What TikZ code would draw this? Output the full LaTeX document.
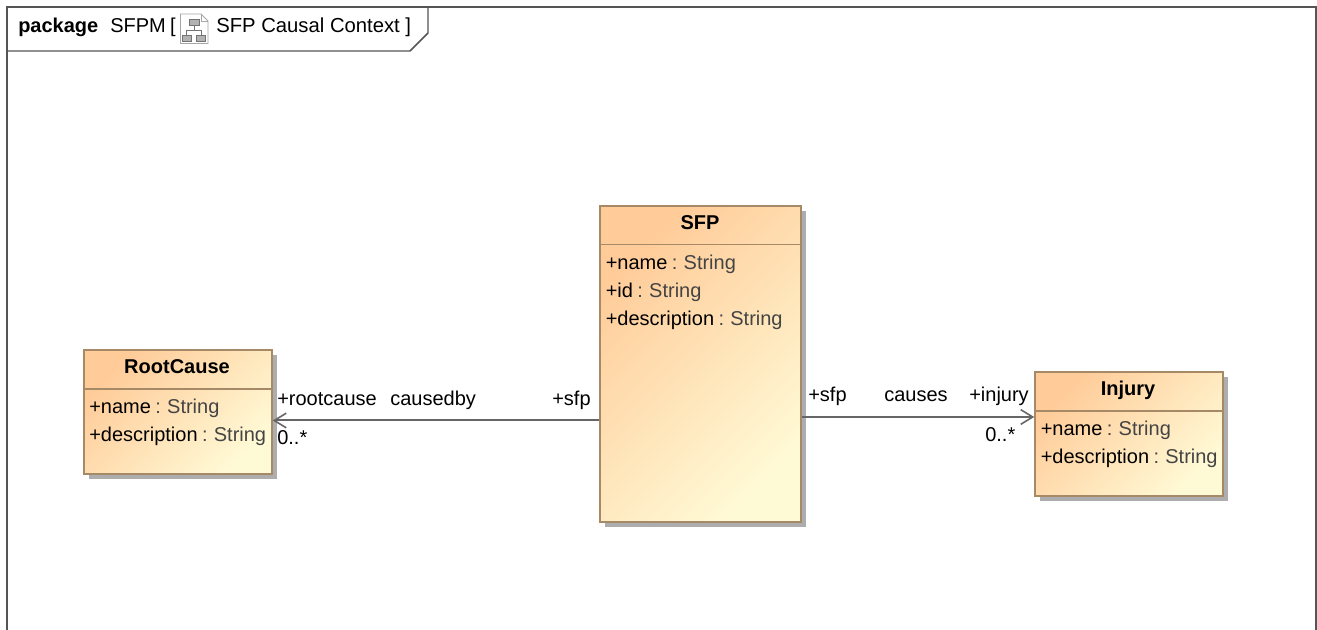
\documentclass[tikz,border=0pt]{standalone}
\usepackage{fontspec}
\setmainfont{Liberation Sans}
\usetikzlibrary{shadows}
\usepgflibrary{arrows.meta}
\definecolor{framegray}{HTML}{555555}
\definecolor{boxedge}{HTML}{A68A68}
\definecolor{boxstart}{HTML}{FFCB98}
\definecolor{boxend}{HTML}{FFFAD6}
\definecolor{typegray}{HTML}{444444}
\definecolor{linegray}{HTML}{666666}
\newcommand{\tightspace}{\spaceskip 3.3pt\relax}
\tikzset{
    classbox/.style={draw=boxedge,line width=1.1pt,inner sep=0pt,left color=boxstart,right color=boxend,shading angle=45,
        drop shadow={shadow xshift=3.5pt,shadow yshift=-3.5pt,opacity=1,fill=black!32}},
    classdiv/.style={draw=boxedge,line width=1.4pt},
    classname/.style={anchor=base,inner sep=0pt,font=\fontsize{15}{17}\selectfont\bfseries},
    member/.style={anchor=base west,inner sep=0pt,font=\fontsize{15}{17}\selectfont},
    attr/.style={member,font=\fontsize{15}{17}\selectfont\tightspace},
    assoc/.style={draw=linegray,line width=1.5pt,-{Straight Barb[length=9pt,width=11pt,line width=1.2pt]}},
}
\begin{document}
\begin{tikzpicture}[x=0.75pt,y=-0.75pt]
        \useasboundingbox (0,0) rectangle (1317,630);
        %frame
        \draw [framegray,line width=1.1pt] (7,630) -- (7,7) -- (1316,7) -- (1316,630);
        \draw [framegray,line width=1.1pt] (7,51) -- (410,51) -- (428,33) -- (428,7);
        \node [member,font=\fontsize{15}{17}\selectfont\bfseries] (pkgkey) at (18,33) {package};
        \node [attr] (pkgname) at (110,33) {SFPM [};
        \node [member,font=\fontsize{15.2}{17}\selectfont] (pkgtitle) at (216,33) {SFP Causal Context ]};
        %icon
        \draw [black!35,fill=white,line width=0.6pt] (180.5,14) -- (201,14) -- (208,21) -- (208,43.5) -- (180.5,43.5) -- cycle;
        \draw [black!35,line width=0.6pt] (201,14) -- (201,21) -- (208,21);
        \draw [black!55,line width=0.5pt] (194,24) -- (194,30) (186,36) -- (186,30) -- (201,30) -- (201,36);
        \draw [black!55,fill=black!30,line width=0.4pt] (189,19) rectangle (199,25);
        \draw [black!55,fill=black!30,line width=0.4pt] (182,35) rectangle (191,41);
        \draw [black!55,fill=black!30,line width=0.4pt] (196,35) rectangle (205,41);
        %classes
        \node [classbox,minimum width=141pt,minimum height=93pt] (rootcause) at (178,412) {};
        \node [classbox,minimum width=150.75pt,minimum height=237pt] (sfp) at (700.5,364) {};
        \node [classbox,minimum width=141pt,minimum height=93pt] (injury) at (1129,434) {};
        \draw [classdiv] (rootcause.west |- 0,389) -- (rootcause.east |- 0,389);
        \draw [classdiv] (sfp.west |- 0,244.5) -- (sfp.east |- 0,244.5);
        \draw [classdiv] (injury.west |- 0,411) -- (injury.east |- 0,411);
        %class names
        \node [classname] (rootcausename) at (177,374) {RootCause};
        \node [classname] (sfpname) at (700,230) {SFP};
        \node [classname] (injuryname) at (1128,396) {Injury};
        %attributes
        \node [attr] (rcattra) at (89,414) {+name \textcolor{typegray}{: String}};
        \node [attr] (rcattrb) at (89,442) {+description \textcolor{typegray}{: String}};
        \node [attr] (sfpattra) at (605.5,270) {+name \textcolor{typegray}{: String}};
        \node [attr] (sfpattrb) at (605.5,298) {+id \textcolor{typegray}{: String}};
        \node [attr] (sfpattrc) at (605.5,326) {+description \textcolor{typegray}{: String}};
        \node [attr] (injattra) at (1040.5,436) {+name \textcolor{typegray}{: String}};
        \node [attr] (injattrb) at (1040.5,464) {+description \textcolor{typegray}{: String}};
        %associations
        \draw [assoc] (sfp.west |- 0,420.5) -- (rootcause.east |- 0,420.5);
        \draw [assoc] (sfp.east |- 0,417) -- (injury.west |- 0,417);
        \node [member] (rcrole) at (277,406) {+rootcause};
        \node [member] (rcassoc) at (390,406) {causedby};
        \node [member] (rcsfp) at (552,406) {+sfp};
        \node [member] (rcmult) at (277,445) {0..*};
        \node [member] (injsfp) at (808,402) {+sfp};
        \node [member] (injassoc) at (884,402) {causes};
        \node [member] (injrole) at (969,402) {+injury};
        \node [member] (injmult) at (985,442) {0..*};
    \end{tikzpicture}
\end{document}
